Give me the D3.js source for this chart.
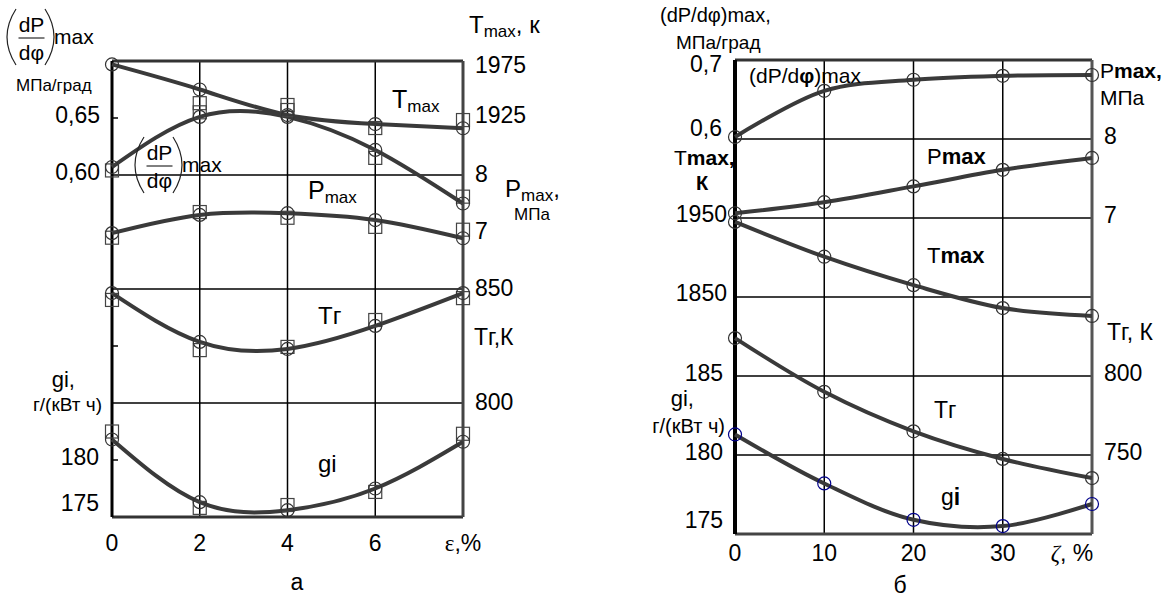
<!DOCTYPE html>
<html>
<head>
<meta charset="utf-8">
<script src="https://d3js.org/d3.v7.min.js"></script>
<style>
    body { margin: 0; background: #fff; }
    svg text { font-family: "Liberation Sans", Arial, sans-serif; fill: #000; }
</style>
</head>
<body>
<svg id="chart" width="1166" height="601"></svg>
<script>
// ---------- panel "а" (x = epsilon, %) ----------
const epsX = [0, 2, 4, 6, 8];
const aTmaxCirc = [1972, 1950, 1927.6, 1919.7, 1916];
const aTmaxSq   = [null, 1938, 1936.4, 1916.2, 1923.2];
const aDpCirc   = [0.607, 0.651, 0.651, 0.622, 0.575];
const aDpSq     = [0.604, 0.655, 0.657, 0.615, 0.581];
const aPCirc    = [6.98, 7.30, 7.33, 7.21, 6.89];
const aPSq      = [6.90, 7.35, 7.25, 7.09, 7.04];
const aTgCirc   = [848.2, 826.8, 823.7, 833.8, 848.2];
const aTgSq     = [845.2, 823.2, 824.6, 836.4, 846];
const aGiCirc   = [181.8, 176.3, 175.6, 177.5, 181.6];
const aGiSq     = [182.5, 175.8, 176.05, 177.2, 182.3];
const aXTicks   = [0, 2, 4, 6];
const aDpTicks  = [0.65, 0.60];
const aTmaxTicks = [1975, 1925];
const aPTicks   = [8, 7];
const aTgTicks  = [850, 800];
const aGiTicks  = [180, 175];

// ---------- panel "б" (x = zeta, %) ----------
const zetaX = [0, 10, 20, 30, 40];
const bDp   = [0.6025, 0.661, 0.675, 0.680, 0.681];
const bP    = [7.06, 7.20, 7.40, 7.61, 7.76];
const bTmax = [1945, 1901, 1865, 1836, 1826];
const bTg   = [824, 790, 765, 747.5, 735.4];
const bGi   = [181.3, 178.2, 175.9, 175.5, 176.9];
const bXTicks   = [0, 10, 20, 30];
const bDpTicks  = [0.7, 0.6];
const bTmaxTicks = [1950, 1850];
const bGiTicks  = [185, 180, 175];
const bPTicks   = [8, 7];
const bTgTicks  = [800, 750];

const svg = d3.select("#chart");
const lineColor = "#3a3a3a";
const comma = f => v => d3.format(f)(v).replace(".", ",");

function txt(g, x, y, s, size, anchor) {
    return g.append("text")
        .attr("x", x).attr("y", y)
        .attr("font-size", size + "px")
        .attr("text-anchor", anchor || "start")
        .attr("dominant-baseline", "central")
        .text(s);
}

// text with subscript part, e.g. T_max
function subTxt(g, x, y, main, sub, tail, size, subSize) {
    const t = g.append("text").attr("x", x).attr("y", y)
        .attr("font-size", size + "px").attr("dominant-baseline", "central");
    t.append("tspan").text(main);
    t.append("tspan").attr("font-size", subSize + "px").attr("dy", 7).text(sub);
    if (tail) t.append("tspan").attr("dy", -7).text(tail);
    return t;
}

// main text + bold part, e.g. P + "max,"
function boldTxt(g, x, y, main, bold, size, anchor) {
    const t = g.append("text").attr("x", x).attr("y", y)
        .attr("font-size", size + "px").attr("dominant-baseline", "central")
        .attr("text-anchor", anchor || "start");
    t.append("tspan").text(main);
    t.append("tspan").attr("font-weight", "bold").text(bold);
    return t;
}

// stacked fraction (dP/dφ)max with tall thin brackets
function fracLabel(g, x, top, h) {
    const l = x + 16, r = x + 45, mid = top + h / 2;
    const paren = (px, dir) => `M${px},${top} Q${px - dir * 18},${mid} ${px},${top + h}`;
    g.append("path").attr("d", paren(l, 1)).attr("fill", "none").attr("stroke", "#222").attr("stroke-width", 1.2);
    g.append("path").attr("d", paren(r, -1)).attr("fill", "none").attr("stroke", "#222").attr("stroke-width", 1.2);
    const cx = (l + r) / 2 + 1;
    txt(g, cx, mid - 13, "dP", 21, "middle");
    g.append("line").attr("x1", cx - 13).attr("x2", cx + 13).attr("y1", mid + 1).attr("y2", mid + 1)
        .attr("stroke", "#000").attr("stroke-width", 1);
    txt(g, cx, mid + 15, "dφ", 21, "middle");
    txt(g, r + 9, mid - 1, "max", 21);
}

function drawTicks(g, vals, fmt, scale, x, anchor, dy, top, bottom) {
    vals.forEach(v => {
        const y = Math.min(Math.max(scale(v) + dy, top + 4), bottom - 14);
        txt(g, x, y, fmt(v), 23, anchor);
    });
}

function drawSeries(g, xs, vals, xScale, yScale, curve, marker, mColor) {
    const line = d3.line()
        .x((d, i) => xScale(xs[i]))
        .y(d => yScale(d))
        .curve(curve);
    if (marker === "line") {
        g.append("path").datum(vals).attr("d", line)
            .attr("fill", "none").attr("stroke", lineColor).attr("stroke-width", 4);
        return;
    }
    const m = g.append("g");
    vals.forEach((v, i) => {
        if (v == null) return;
        const cx = xScale(xs[i]), cy = yScale(v);
        if (marker === "circle") {
            m.append("circle").attr("cx", cx).attr("cy", cy).attr("r", 6.5)
                .attr("fill", "none").attr("stroke", mColor).attr("stroke-width", 1.2);
        } else {
            m.append("rect").attr("x", cx - 6.5).attr("y", cy - 6.5).attr("width", 13).attr("height", 13)
                .attr("fill", "none").attr("stroke", mColor).attr("stroke-width", 1.2);
        }
    });
}

// ================= panel а =================
const gA = svg.append("g");
const xA = d3.scaleLinear().domain([0, 8]).range([112, 463]);
const aTop = 61, aBottom = 517;
const yA = {
    dp: d3.scaleLinear().domain([0.60, 0.70]).range([175, 61]),
    tmax: d3.scaleLinear().domain([1925, 1975]).range([118, 61]),
    p: d3.scaleLinear().domain([7, 8]).range([232, 175]),
    tg: d3.scaleLinear().domain([800, 850]).range([403, 289]),
    gi: d3.scaleLinear().domain([175, 180]).range([517, 460])
};

// grid
aXTicks.slice(1).forEach(v => {
    gA.append("line").attr("x1", xA(v)).attr("x2", xA(v)).attr("y1", aTop).attr("y2", aBottom)
        .attr("stroke", "#000").attr("stroke-width", 1.5);
});
[yA.dp(0.60), yA.tg(850), yA.tg(800)].forEach(y => {
    gA.append("line").attr("x1", xA(0)).attr("x2", xA(8)).attr("y1", y).attr("y2", y)
        .attr("stroke", "#000").attr("stroke-width", 1.5);
});
// small inner ticks on the left axis
[yA.dp(0.65), yA.tg(825), yA.gi(180)].forEach(y => {
    gA.append("line").attr("x1", xA(0)).attr("x2", xA(0) + 6).attr("y1", y).attr("y2", y)
        .attr("stroke", "#000").attr("stroke-width", 1.5);
});
// frame
gA.append("line").attr("x1", xA(0)).attr("x2", xA(8)).attr("y1", aTop).attr("y2", aTop).attr("stroke", "#333").attr("stroke-width", 3);
gA.append("line").attr("x1", xA(0)).attr("x2", xA(8)).attr("y1", aBottom).attr("y2", aBottom).attr("stroke", "#333").attr("stroke-width", 3);
gA.append("line").attr("x1", xA(0)).attr("x2", xA(0)).attr("y1", aTop).attr("y2", aBottom).attr("stroke", "#000").attr("stroke-width", 3);
gA.append("line").attr("x1", xA(8)).attr("x2", xA(8)).attr("y1", aTop).attr("y2", aBottom).attr("stroke", "#444").attr("stroke-width", 3);

const curveA = d3.curveNatural;
[[aTmaxCirc, aTmaxSq, yA.tmax], [aDpCirc, aDpSq, yA.dp], [aPCirc, aPSq, yA.p],
 [aTgCirc, aTgSq, yA.tg], [aGiCirc, aGiSq, yA.gi]].forEach(([c, s, sc]) => {
    drawSeries(gA, epsX, c, xA, sc, curveA, "line");
    drawSeries(gA, epsX, s, xA, sc, curveA, "square", "#444");
    drawSeries(gA, epsX, c, xA, sc, curveA, "circle", "#333");
});

// tick labels
drawTicks(gA, aDpTicks, comma(".2f"), yA.dp, 100, "end", -3, aTop, aBottom);
drawTicks(gA, aGiTicks, d3.format("d"), yA.gi, 99, "end", -3, aTop, aBottom);
drawTicks(gA, aTmaxTicks, d3.format("d"), yA.tmax, 475, "start", -3, aTop, aBottom);
drawTicks(gA, aPTicks, d3.format("d"), yA.p, 475, "start", -1, aTop, aBottom);
drawTicks(gA, aTgTicks, d3.format("d"), yA.tg, 475, "start", -1, aTop, aBottom);
aXTicks.forEach(v => txt(gA, xA(v), 543, String(v), 23, "middle"));
gA.append("text").attr("x", xA(8)).attr("y", 543).attr("font-size", "23px")
    .attr("text-anchor", "middle").attr("dominant-baseline", "central")
    .html('<tspan font-family="Liberation Serif, serif">ε</tspan>,%');
txt(gA, 297, 582, "а", 23, "middle");

// axis titles
fracLabel(gA, 0, 9, 56);
txt(gA, 16, 85, "МПа/град", 17);
subTxt(gA, 469, 24, "T", "max", ", к", 24, 17);
subTxt(gA, 505, 188, "P", "max", ",", 24, 17);
txt(gA, 514, 214, "МПа", 17);
txt(gA, 474, 337, "Tг,К", 23);
txt(gA, 75, 379, "gi,", 22, "end");
txt(gA, 102, 404, "г/(кВт ч)", 19, "end");

// curve labels
subTxt(gA, 392, 99, "T", "max", null, 25, 17);
subTxt(gA, 308, 190, "P", "max", null, 25, 17);
fracLabel(gA, 128, 137, 56);
txt(gA, 318, 315, "Tг", 24);
txt(gA, 318, 463, "gi", 24);

// ================= panel б =================
const gB = svg.append("g");
const xB = d3.scaleLinear().domain([0, 40]).range([735, 1092]);
const bTop = 60, bBottom = 534;
const yB = {
    dp: d3.scaleLinear().domain([0.6, 0.7]).range([139, 60]),
    p: d3.scaleLinear().domain([7, 8]).range([218, 139]),
    tmax: d3.scaleLinear().domain([1850, 1950]).range([297, 218]),
    tg: d3.scaleLinear().domain([750, 800]).range([455, 376]),
    gi: d3.scaleLinear().domain([175, 185]).range([534, 376])
};

bXTicks.slice(1).forEach(v => {
    gB.append("line").attr("x1", xB(v)).attr("x2", xB(v)).attr("y1", bTop).attr("y2", bBottom)
        .attr("stroke", "#000").attr("stroke-width", 1.5);
});
[yB.dp(0.6), yB.p(7), yB.tmax(1850), yB.gi(185), yB.gi(180)].forEach(y => {
    gB.append("line").attr("x1", xB(0)).attr("x2", xB(40)).attr("y1", y).attr("y2", y)
        .attr("stroke", "#000").attr("stroke-width", 1.5);
});
gB.append("line").attr("x1", xB(0)).attr("x2", xB(40)).attr("y1", bTop).attr("y2", bTop).attr("stroke", "#333").attr("stroke-width", 3);
gB.append("line").attr("x1", xB(0)).attr("x2", xB(40)).attr("y1", bBottom).attr("y2", bBottom).attr("stroke", "#444").attr("stroke-width", 3);
gB.append("line").attr("x1", xB(0)).attr("x2", xB(0)).attr("y1", bTop).attr("y2", bBottom).attr("stroke", "#000").attr("stroke-width", 4);
gB.append("line").attr("x1", xB(40)).attr("x2", xB(40)).attr("y1", bTop).attr("y2", bBottom).attr("stroke", "#555").attr("stroke-width", 3);

const curveB = d3.curveCatmullRom.alpha(0.5);
[[bDp, yB.dp, "#333"], [bP, yB.p, "#333"], [bTmax, yB.tmax, "#333"],
 [bTg, yB.tg, "#333"], [bGi, yB.gi, "#00008b"]].forEach(([v, sc, col]) => {
    drawSeries(gB, zetaX, v, xB, sc, curveB, "line");
    drawSeries(gB, zetaX, v, xB, sc, curveB, "circle", col);
});

drawTicks(gB, bDpTicks, comma(".1f"), yB.dp, 722, "end", -11, bTop, bBottom);
drawTicks(gB, bTmaxTicks, d3.format("d"), yB.tmax, 727, "end", -4, bTop, bBottom);
drawTicks(gB, bGiTicks, d3.format("d"), yB.gi, 723, "end", -3, bTop, bBottom);
drawTicks(gB, bPTicks, d3.format("d"), yB.p, 1104, "start", -3, bTop, bBottom);
drawTicks(gB, bTgTicks, d3.format("d"), yB.tg, 1104, "start", -3, bTop, bBottom);
bXTicks.forEach(v => txt(gB, xB(v), 553, String(v), 23, "middle"));
gB.append("text").attr("x", 1072).attr("y", 553).attr("font-size", "23px")
    .attr("text-anchor", "middle").attr("dominant-baseline", "central")
    .html('<tspan font-family="Liberation Serif, serif" font-style="italic">ζ</tspan>, %');
txt(gB, 900, 585, "б", 23, "middle");

// axis titles
txt(gB, 660, 15, "(dP/dφ)max,", 20);
txt(gB, 676, 42, "МПа/град", 19);
boldTxt(gB, 674, 157, "T", "max,", 21);
txt(gB, 702, 183, "К", 20, "middle").attr("font-weight", "bold");
txt(gB, 694, 398, "gi,", 22, "end");
txt(gB, 725, 426, "г/(кВт ч)", 20, "end");
boldTxt(gB, 1100, 70, "P", "max,", 21);
txt(gB, 1100, 97, "МПа", 21);
txt(gB, 1107, 332, "Tг, К", 23);

// curve labels
const dpLab = gB.append("text").attr("x", 749).attr("y", 75).attr("font-size", "21px").attr("dominant-baseline", "central");
dpLab.append("tspan").text("(dP/d");
dpLab.append("tspan").attr("font-weight", "bold").text("φ");
dpLab.append("tspan").text(")max");
boldTxt(gB, 927, 156, "P", "max", 22);
boldTxt(gB, 927, 255, "T", "max", 22);
txt(gB, 934, 410, "Tг", 23);
boldTxt(gB, 941, 497, "g", "i", 23);
</script>
</body>
</html>
